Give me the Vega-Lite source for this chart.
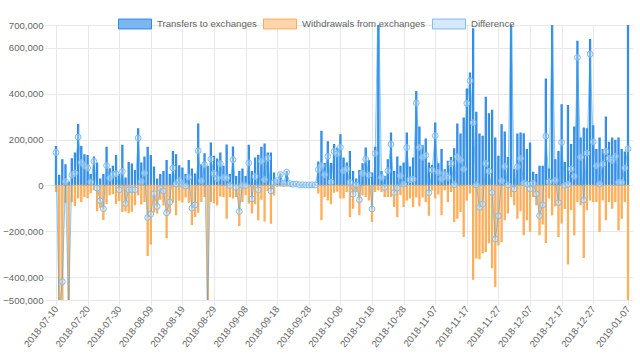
{
"$schema":"https://vega.github.io/schema/vega-lite/v6.json",
"width":582,"height":275,
"autosize":{"type":"none"},
"padding":{"left":51,"top":25,"right":7,"bottom":61},
"background":"white",
"config":{"font":"Liberation Sans","view":{"stroke":null},
 "axis":{"labelFont":"Liberation Sans","labelFontSize":9.6,"labelColor":"#666666","gridColor":"#e8e8e8","tickColor":"#e8e8e8","domain":false,"title":null,"labelOverlap":false},
 "legend":{"orient":"none","legendY":-18,"direction":"horizontal","title":null,"padding":0,
     "symbolType":"M-1,-0.3H1V0.3H-1Z","symbolSize":1089,"symbolStrokeWidth":1,"symbolOpacity":1,
     "labelFont":"Liberation Sans","labelFontSize":9.6,"labelColor":"#666666","labelOffset":5,"columnPadding":8}},
"resolve":{"scale":{"stroke":"independent"},"legend":{"stroke":"independent"}},
"data":{"values":[
{"date":"2018-07-10","transfers":170000,"withdrawals":-26000,"difference":144000},
{"date":"2018-07-11","transfers":44000,"withdrawals":-600000,"difference":-556000},
{"date":"2018-07-12","transfers":112000,"withdrawals":-532000,"difference":-420000},
{"date":"2018-07-13","transfers":90000,"withdrawals":-73000,"difference":17000},
{"date":"2018-07-14","transfers":15000,"withdrawals":-560000,"difference":-545000},
{"date":"2018-07-15","transfers":116000,"withdrawals":-71000,"difference":45000},
{"date":"2018-07-16","transfers":141000,"withdrawals":-87000,"difference":54000},
{"date":"2018-07-17","transfers":266000,"withdrawals":-55000,"difference":211000},
{"date":"2018-07-18","transfers":170000,"withdrawals":-70000,"difference":100000},
{"date":"2018-07-19","transfers":134000,"withdrawals":-48000,"difference":86000},
{"date":"2018-07-20","transfers":130000,"withdrawals":-54000,"difference":76000},
{"date":"2018-07-21","transfers":47000,"withdrawals":-32000,"difference":15000},
{"date":"2018-07-22","transfers":124000,"withdrawals":-19000,"difference":105000},
{"date":"2018-07-23","transfers":98000,"withdrawals":-110000,"difference":-12000},
{"date":"2018-07-24","transfers":28000,"withdrawals":-95000,"difference":-67000},
{"date":"2018-07-25","transfers":47000,"withdrawals":-149000,"difference":-102000},
{"date":"2018-07-26","transfers":166000,"withdrawals":-79000,"difference":87000},
{"date":"2018-07-27","transfers":73000,"withdrawals":-41000,"difference":32000},
{"date":"2018-07-28","transfers":83000,"withdrawals":-36000,"difference":47000},
{"date":"2018-07-29","transfers":130000,"withdrawals":-79000,"difference":51000},
{"date":"2018-07-30","transfers":47000,"withdrawals":-66000,"difference":-19000},
{"date":"2018-07-31","transfers":175000,"withdrawals":-114000,"difference":61000},
{"date":"2018-08-01","transfers":32000,"withdrawals":-111000,"difference":-79000},
{"date":"2018-08-02","transfers":100000,"withdrawals":-119000,"difference":-19000},
{"date":"2018-08-03","transfers":93000,"withdrawals":-112000,"difference":-19000},
{"date":"2018-08-04","transfers":65000,"withdrawals":-84000,"difference":-19000},
{"date":"2018-08-05","transfers":247000,"withdrawals":-40000,"difference":207000},
{"date":"2018-08-06","transfers":98000,"withdrawals":-81000,"difference":17000},
{"date":"2018-08-07","transfers":124000,"withdrawals":-70000,"difference":54000},
{"date":"2018-08-08","transfers":166000,"withdrawals":-306000,"difference":-140000},
{"date":"2018-08-09","transfers":130000,"withdrawals":-255000,"difference":-125000},
{"date":"2018-08-10","transfers":80000,"withdrawals":-116000,"difference":-36000},
{"date":"2018-08-11","transfers":28000,"withdrawals":-120000,"difference":-92000},
{"date":"2018-08-12","transfers":47000,"withdrawals":-60000,"difference":-13000},
{"date":"2018-08-13","transfers":61000,"withdrawals":-85000,"difference":-24000},
{"date":"2018-08-14","transfers":108000,"withdrawals":-228000,"difference":-120000},
{"date":"2018-08-15","transfers":47000,"withdrawals":-120000,"difference":-73000},
{"date":"2018-08-16","transfers":148000,"withdrawals":-72000,"difference":76000},
{"date":"2018-08-17","transfers":134000,"withdrawals":-128000,"difference":6000},
{"date":"2018-08-18","transfers":86000,"withdrawals":-65000,"difference":21000},
{"date":"2018-08-19","transfers":76000,"withdrawals":-72000,"difference":4000},
{"date":"2018-08-20","transfers":47000,"withdrawals":-50000,"difference":-3000},
{"date":"2018-08-21","transfers":109000,"withdrawals":-73000,"difference":36000},
{"date":"2018-08-22","transfers":71000,"withdrawals":-170000,"difference":-99000},
{"date":"2018-08-23","transfers":50000,"withdrawals":-135000,"difference":-85000},
{"date":"2018-08-24","transfers":268000,"withdrawals":-117000,"difference":151000},
{"date":"2018-08-25","transfers":90000,"withdrawals":-70000,"difference":20000},
{"date":"2018-08-26","transfers":138000,"withdrawals":-48000,"difference":90000},
{"date":"2018-08-27","transfers":83000,"withdrawals":-600000,"difference":-517000},
{"date":"2018-08-28","transfers":185000,"withdrawals":-70000,"difference":115000},
{"date":"2018-08-29","transfers":127000,"withdrawals":-75000,"difference":52000},
{"date":"2018-08-30","transfers":115000,"withdrawals":-85000,"difference":30000},
{"date":"2018-08-31","transfers":141000,"withdrawals":-46000,"difference":95000},
{"date":"2018-09-01","transfers":83000,"withdrawals":-48000,"difference":35000},
{"date":"2018-09-02","transfers":176000,"withdrawals":-143000,"difference":33000},
{"date":"2018-09-03","transfers":47000,"withdrawals":-48000,"difference":-1000},
{"date":"2018-09-04","transfers":167000,"withdrawals":-55000,"difference":112000},
{"date":"2018-09-05","transfers":39000,"withdrawals":-48000,"difference":-9000},
{"date":"2018-09-06","transfers":61000,"withdrawals":-175000,"difference":-114000},
{"date":"2018-09-07","transfers":71000,"withdrawals":-70000,"difference":1000},
{"date":"2018-09-08","transfers":39000,"withdrawals":-40000,"difference":-1000},
{"date":"2018-09-09","transfers":175000,"withdrawals":-77000,"difference":98000},
{"date":"2018-09-10","transfers":61000,"withdrawals":-120000,"difference":-59000},
{"date":"2018-09-11","transfers":119000,"withdrawals":-80000,"difference":39000},
{"date":"2018-09-12","transfers":131000,"withdrawals":-150000,"difference":-19000},
{"date":"2018-09-13","transfers":166000,"withdrawals":-60000,"difference":106000},
{"date":"2018-09-14","transfers":180000,"withdrawals":-155000,"difference":25000},
{"date":"2018-09-15","transfers":141000,"withdrawals":-22000,"difference":119000},
{"date":"2018-09-16","transfers":141000,"withdrawals":-165000,"difference":-24000},
{"date":"2018-09-17","transfers":54000,"withdrawals":-42000,"difference":12000},
{"date":"2018-09-18","transfers":25000,"withdrawals":-4000,"difference":21000},
{"date":"2018-09-19","transfers":51000,"withdrawals":-3000,"difference":48000},
{"date":"2018-09-20","transfers":10000,"withdrawals":-2000,"difference":8000},
{"date":"2018-09-21","transfers":61000,"withdrawals":-3000,"difference":58000},
{"date":"2018-09-22","transfers":10000,"withdrawals":-2000,"difference":8000},
{"date":"2018-09-23","transfers":6000,"withdrawals":-1000,"difference":5000},
{"date":"2018-09-24","transfers":8000,"withdrawals":-2000,"difference":6000},
{"date":"2018-09-25","transfers":4000,"withdrawals":-1000,"difference":3000},
{"date":"2018-09-26","transfers":5000,"withdrawals":-2000,"difference":3000},
{"date":"2018-09-27","transfers":3000,"withdrawals":-1000,"difference":2000},
{"date":"2018-09-28","transfers":4000,"withdrawals":-2000,"difference":2000},
{"date":"2018-09-29","transfers":5000,"withdrawals":-2000,"difference":3000},
{"date":"2018-09-30","transfers":3000,"withdrawals":-1000,"difference":2000},
{"date":"2018-10-01","transfers":102000,"withdrawals":-33000,"difference":69000},
{"date":"2018-10-02","transfers":236000,"withdrawals":-150000,"difference":86000},
{"date":"2018-10-03","transfers":95000,"withdrawals":-48000,"difference":47000},
{"date":"2018-10-04","transfers":190000,"withdrawals":-63000,"difference":127000},
{"date":"2018-10-05","transfers":95000,"withdrawals":-80000,"difference":15000},
{"date":"2018-10-06","transfers":178000,"withdrawals":-30000,"difference":148000},
{"date":"2018-10-07","transfers":163000,"withdrawals":-25000,"difference":138000},
{"date":"2018-10-08","transfers":221000,"withdrawals":-55000,"difference":166000},
{"date":"2018-10-09","transfers":119000,"withdrawals":-55000,"difference":64000},
{"date":"2018-10-10","transfers":98000,"withdrawals":-26000,"difference":72000},
{"date":"2018-10-11","transfers":148000,"withdrawals":-135000,"difference":13000},
{"date":"2018-10-12","transfers":61000,"withdrawals":-99000,"difference":-38000},
{"date":"2018-10-13","transfers":28000,"withdrawals":-26000,"difference":2000},
{"date":"2018-10-14","transfers":65000,"withdrawals":-128000,"difference":-63000},
{"date":"2018-10-15","transfers":94000,"withdrawals":-41000,"difference":53000},
{"date":"2018-10-16","transfers":163000,"withdrawals":-48000,"difference":115000},
{"date":"2018-10-17","transfers":108000,"withdrawals":-63000,"difference":45000},
{"date":"2018-10-18","transfers":54000,"withdrawals":-157000,"difference":-103000},
{"date":"2018-10-19","transfers":166000,"withdrawals":-26000,"difference":140000},
{"date":"2018-10-20","transfers":900000,"withdrawals":-19000,"difference":881000},
{"date":"2018-10-21","transfers":61000,"withdrawals":-26000,"difference":35000},
{"date":"2018-10-22","transfers":39000,"withdrawals":-48000,"difference":-9000},
{"date":"2018-10-23","transfers":112000,"withdrawals":-48000,"difference":64000},
{"date":"2018-10-24","transfers":228000,"withdrawals":-48000,"difference":180000},
{"date":"2018-10-25","transfers":61000,"withdrawals":-92000,"difference":-31000},
{"date":"2018-10-26","transfers":124000,"withdrawals":-135000,"difference":-11000},
{"date":"2018-10-27","transfers":83000,"withdrawals":-41000,"difference":42000},
{"date":"2018-10-28","transfers":98000,"withdrawals":-92000,"difference":6000},
{"date":"2018-10-29","transfers":228000,"withdrawals":-63000,"difference":165000},
{"date":"2018-10-30","transfers":80000,"withdrawals":-55000,"difference":25000},
{"date":"2018-10-31","transfers":119000,"withdrawals":-92000,"difference":27000},
{"date":"2018-11-01","transfers":410000,"withdrawals":-50000,"difference":360000},
{"date":"2018-11-02","transfers":255000,"withdrawals":-89000,"difference":166000},
{"date":"2018-11-03","transfers":173000,"withdrawals":-50000,"difference":123000},
{"date":"2018-11-04","transfers":202000,"withdrawals":-70000,"difference":132000},
{"date":"2018-11-05","transfers":98000,"withdrawals":-130000,"difference":-32000},
{"date":"2018-11-06","transfers":87000,"withdrawals":-20000,"difference":67000},
{"date":"2018-11-07","transfers":272000,"withdrawals":-55000,"difference":217000},
{"date":"2018-11-08","transfers":94000,"withdrawals":-37000,"difference":57000},
{"date":"2018-11-09","transfers":156000,"withdrawals":-128000,"difference":28000},
{"date":"2018-11-10","transfers":68000,"withdrawals":-19000,"difference":49000},
{"date":"2018-11-11","transfers":105000,"withdrawals":-70000,"difference":35000},
{"date":"2018-11-12","transfers":122000,"withdrawals":-26000,"difference":96000},
{"date":"2018-11-13","transfers":160000,"withdrawals":-157000,"difference":3000},
{"date":"2018-11-14","transfers":268000,"withdrawals":-143000,"difference":125000},
{"date":"2018-11-15","transfers":224000,"withdrawals":-114000,"difference":110000},
{"date":"2018-11-16","transfers":294000,"withdrawals":-223000,"difference":71000},
{"date":"2018-11-17","transfers":421000,"withdrawals":-63000,"difference":358000},
{"date":"2018-11-18","transfers":490000,"withdrawals":-33000,"difference":457000},
{"date":"2018-11-19","transfers":683000,"withdrawals":-409000,"difference":274000},
{"date":"2018-11-20","transfers":319000,"withdrawals":-317000,"difference":2000},
{"date":"2018-11-21","transfers":224000,"withdrawals":-320000,"difference":-96000},
{"date":"2018-11-22","transfers":214000,"withdrawals":-295000,"difference":-81000},
{"date":"2018-11-23","transfers":384000,"withdrawals":-288000,"difference":96000},
{"date":"2018-11-24","transfers":312000,"withdrawals":-250000,"difference":62000},
{"date":"2018-11-25","transfers":328000,"withdrawals":-359000,"difference":-31000},
{"date":"2018-11-26","transfers":207000,"withdrawals":-441000,"difference":-234000},
{"date":"2018-11-27","transfers":127000,"withdrawals":-260000,"difference":-133000},
{"date":"2018-11-28","transfers":265000,"withdrawals":-245000,"difference":20000},
{"date":"2018-11-29","transfers":233000,"withdrawals":-150000,"difference":83000},
{"date":"2018-11-30","transfers":122000,"withdrawals":-120000,"difference":2000},
{"date":"2018-12-01","transfers":850000,"withdrawals":-48000,"difference":802000},
{"date":"2018-12-02","transfers":68000,"withdrawals":-84000,"difference":-16000},
{"date":"2018-12-03","transfers":224000,"withdrawals":-143000,"difference":81000},
{"date":"2018-12-04","transfers":228000,"withdrawals":-110000,"difference":118000},
{"date":"2018-12-05","transfers":225000,"withdrawals":-215000,"difference":10000},
{"date":"2018-12-06","transfers":156000,"withdrawals":-150000,"difference":6000},
{"date":"2018-12-07","transfers":185000,"withdrawals":-200000,"difference":-15000},
{"date":"2018-12-08","transfers":57000,"withdrawals":-48000,"difference":9000},
{"date":"2018-12-09","transfers":47000,"withdrawals":-84000,"difference":-37000},
{"date":"2018-12-10","transfers":83000,"withdrawals":-215000,"difference":-132000},
{"date":"2018-12-11","transfers":83000,"withdrawals":-168000,"difference":-85000},
{"date":"2018-12-12","transfers":464000,"withdrawals":-249000,"difference":215000},
{"date":"2018-12-13","transfers":71000,"withdrawals":-55000,"difference":16000},
{"date":"2018-12-14","transfers":850000,"withdrawals":-128000,"difference":722000},
{"date":"2018-12-15","transfers":112000,"withdrawals":-90000,"difference":22000},
{"date":"2018-12-16","transfers":148000,"withdrawals":-223000,"difference":-75000},
{"date":"2018-12-17","transfers":352000,"withdrawals":-164000,"difference":188000},
{"date":"2018-12-18","transfers":100000,"withdrawals":-100000,"difference":0},
{"date":"2018-12-19","transfers":348000,"withdrawals":-343000,"difference":5000},
{"date":"2018-12-20","transfers":178000,"withdrawals":-106000,"difference":72000},
{"date":"2018-12-21","transfers":255000,"withdrawals":-215000,"difference":40000},
{"date":"2018-12-22","transfers":629000,"withdrawals":-70000,"difference":559000},
{"date":"2018-12-23","transfers":207000,"withdrawals":-84000,"difference":123000},
{"date":"2018-12-24","transfers":250000,"withdrawals":-314000,"difference":-64000},
{"date":"2018-12-25","transfers":247000,"withdrawals":-106000,"difference":141000},
{"date":"2018-12-26","transfers":636000,"withdrawals":-63000,"difference":573000},
{"date":"2018-12-27","transfers":260000,"withdrawals":-70000,"difference":190000},
{"date":"2018-12-28","transfers":156000,"withdrawals":-70000,"difference":86000},
{"date":"2018-12-29","transfers":207000,"withdrawals":-201000,"difference":6000},
{"date":"2018-12-30","transfers":156000,"withdrawals":-63000,"difference":93000},
{"date":"2018-12-31","transfers":298000,"withdrawals":-150000,"difference":148000},
{"date":"2019-01-01","transfers":188000,"withdrawals":-70000,"difference":118000},
{"date":"2019-01-02","transfers":207000,"withdrawals":-99000,"difference":108000},
{"date":"2019-01-03","transfers":197000,"withdrawals":-70000,"difference":127000},
{"date":"2019-01-04","transfers":207000,"withdrawals":-194000,"difference":13000},
{"date":"2019-01-05","transfers":156000,"withdrawals":-143000,"difference":13000},
{"date":"2019-01-06","transfers":146000,"withdrawals":-70000,"difference":76000},
{"date":"2019-01-07","transfers":720000,"withdrawals":-560000,"difference":160000}
]},
"encoding":{
 "x":{"field":"date","type":"temporal",
  "scale":{"type":"utc","domain":[{"year":2018,"month":7,"date":10,"utc":true},{"year":2019,"month":1,"date":7,"utc":true}]},
  "axis":{"labelExpr":"utcFormat(datum.value, '%Y-%m-%d')","labelAngle":-52,"labelFlush":false,"tickSize":5,"labelPadding":2,"grid":true,"tickCount":40,
   "values":[{"year":2018,"month":7,"date":10,"utc":true},{"year":2018,"month":7,"date":20,"utc":true},{"year":2018,"month":7,"date":30,"utc":true},{"year":2018,"month":8,"date":9,"utc":true},{"year":2018,"month":8,"date":19,"utc":true},{"year":2018,"month":8,"date":29,"utc":true},{"year":2018,"month":9,"date":8,"utc":true},{"year":2018,"month":9,"date":18,"utc":true},{"year":2018,"month":9,"date":28,"utc":true},{"year":2018,"month":10,"date":8,"utc":true},{"year":2018,"month":10,"date":18,"utc":true},{"year":2018,"month":10,"date":28,"utc":true},{"year":2018,"month":11,"date":7,"utc":true},{"year":2018,"month":11,"date":17,"utc":true},{"year":2018,"month":11,"date":27,"utc":true},{"year":2018,"month":12,"date":7,"utc":true},{"year":2018,"month":12,"date":17,"utc":true},{"year":2018,"month":12,"date":27,"utc":true},{"year":2019,"month":1,"date":7,"utc":true}]}}
},
"layer":[
 {"mark":{"type":"area","clip":true,"fill":"#36a2eb","fillOpacity":0.18,"strokeWidth":0},
  "encoding":{"y":{"field":"difference","type":"quantitative",
     "scale":{"domain":[-500000,700000],"nice":false,"zero":false},
     "axis":{"values":[-500000,-400000,-200000,0,200000,400000,600000,700000],"tickCount":40,"labelExpr":"format(datum.value, ',.0f')","tickSize":6,"labelPadding":2,"grid":true}},
   "y2":{"datum":0}}},
 {"mark":{"type":"bar","clip":true,"size":1.2,"fill":"#7cb7f2","strokeWidth":1.1},
  "encoding":{"y":{"field":"transfers","type":"quantitative"},
   "stroke":{"datum":"Transfers to exchanges","type":"nominal","scale":{"range":["#2f8be6"]},
    "legend":{"legendX":67,"symbolType":"M-1,-0.3H1V0.3H-1Z","symbolSize":1089,"symbolStrokeWidth":1}}}},
 {"mark":{"type":"bar","clip":true,"size":1.2,"fill":"#ffd5ad","strokeWidth":1.1},
  "encoding":{"y":{"field":"withdrawals","type":"quantitative"},
   "stroke":{"datum":"Withdrawals from exchanges","type":"nominal","scale":{"range":["#ffac55"]},
    "legend":{"legendX":212,"symbolType":"M-1,-0.3H1V0.3H-1Z","symbolSize":1089,"symbolStrokeWidth":1}}}},
 {"mark":{"type":"line","clip":true,"color":"#36a2eb","strokeWidth":1,"strokeOpacity":0.55},
  "encoding":{"y":{"field":"difference","type":"quantitative"}}},
 {"mark":{"type":"point","clip":true,"filled":true,"fill":"#d6e9fa","fillOpacity":0.4,"strokeWidth":1,"size":34,"shape":"circle"},
  "encoding":{"y":{"field":"difference","type":"quantitative"},
   "stroke":{"datum":"Difference","type":"nominal","scale":{"range":["#7fbdf0"]},
    "legend":{"legendX":381,"symbolType":"M-1,-0.3H1V0.3H-1Z","symbolSize":1089,"symbolStrokeWidth":1}}}}
]
}
